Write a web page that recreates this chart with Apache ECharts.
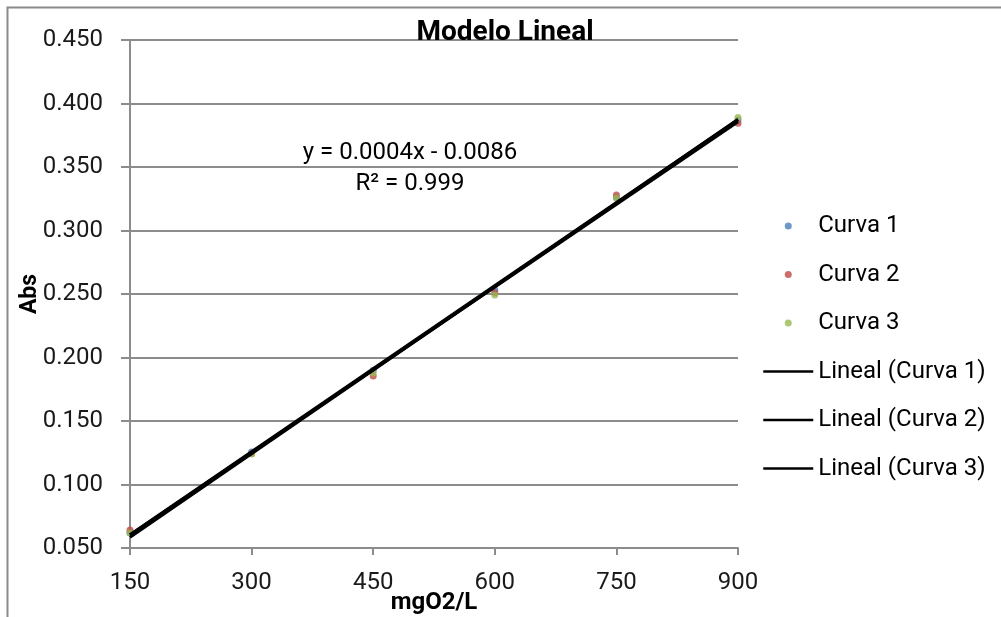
<!DOCTYPE html>
<html><head><meta charset="utf-8">
<script src="https://cdn.jsdelivr.net/npm/echarts@6/dist/echarts.min.js"></script>
<style>html,body{margin:0;padding:0;background:#fff}#c{width:1001px;height:617px}</style>
</head><body><div id="c"></div>
<script>
const xValues = [150, 300, 450, 600, 750, 900];
const curva1 = [0.0620, 0.1256, 0.1900, 0.2531, 0.3260, 0.3870];
const curva2 = [0.0642, 0.1245, 0.1855, 0.2510, 0.3280, 0.3845];
const curva3 = [0.0618, 0.1240, 0.1878, 0.2492, 0.3256, 0.3890];
const xTicks = [150, 300, 450, 600, 750, 900];
const yTicks = [0.05, 0.10, 0.15, 0.20, 0.25, 0.30, 0.35, 0.40, 0.45];
const names = ['Curva 1', 'Curva 2', 'Curva 3'];
const colors = ['#4a7ebb', '#be4b48', '#98b954'];
const equationText = 'y = 0.0004x - 0.0086';
const r2Text = 'R² = 0.999';

function fit(ys) {
  const n = xValues.length;
  let sx = 0, sy = 0, sxx = 0, sxy = 0;
  for (let i = 0; i < n; i++) { sx += xValues[i]; sy += ys[i]; sxx += xValues[i]*xValues[i]; sxy += xValues[i]*ys[i]; }
  const b = (n*sxy - sx*sy) / (n*sxx - sx*sx);
  const a = (sy - b*sx) / n;
  const x0 = xValues[0], x1 = xValues[n-1];
  return [[x0, a + b*x0], [x1, a + b*x1]];
}

const font = 'Roboto';
const series = [];
[curva1, curva2, curva3].forEach((ys, i) => {
  series.push({
    name: names[i], type: 'scatter', symbol: 'circle', symbolSize: 7,
    itemStyle: { color: colors[i] }, z: 2,
    data: xValues.map((x, j) => [x, ys[j]])
  });
});
[curva1, curva2, curva3].forEach((ys, i) => {
  series.push({
    name: 'Lineal (' + names[i] + ')', type: 'line', showSymbol: false, symbol: 'none',
    lineStyle: { color: '#000', width: 3 }, itemStyle: { color: '#000' }, z: 3,
    data: fit(ys)
  });
});

const legendData = names.map(n => ({ name: n }))
  .concat(names.map(n => ({ name: 'Lineal (' + n + ')', itemStyle: { opacity: 0 }, lineStyle: { width: 2.5, color: '#000' } })));

const chart = echarts.init(document.getElementById('c'));
chart.setOption({
  animation: false,
  backgroundColor: '#fff',
  title: {
    text: 'Modelo Lineal', left: 505, top: 19, textAlign: 'center', padding: 0,
    textStyle: { fontFamily: font, fontSize: 28, fontWeight: 'bold', color: '#000' }
  },
  grid: { left: 130, right: 263, top: 40, bottom: 69, outerBoundsMode: 'none', containLabel: false },
  legend: {
    orient: 'vertical', left: 762, top: 214, padding: 0, itemWidth: 50, itemHeight: 7, itemGap: 24.5,
    textStyle: { fontFamily: font, fontSize: 24, color: '#000', lineHeight: 24 },
    data: legendData
  },
  xAxis: {
    type: 'value', min: 150, max: 900, interval: 150,
    name: 'mgO2/L', nameLocation: 'middle', nameGap: 43, nameMoveOverlap: false,
    nameTextStyle: { fontFamily: font, fontSize: 24, fontWeight: 'bold', color: '#000' },
    axisLine: { show: true, lineStyle: { color: '#8c8c8c', width: 2 } },
    axisTick: { show: true, length: 7, lineStyle: { color: '#8c8c8c', width: 2 } },
    axisLabel: { fontFamily: font, fontSize: 24, color: '#1a1a1a', margin: 23,
      formatter: v => xTicks.includes(Math.round(v)) ? String(Math.round(v)) : '' },
    splitLine: { show: false }
  },
  yAxis: {
    type: 'value', min: 0.05, max: 0.45, interval: 0.05,
    name: 'Abs', nameLocation: 'middle', nameGap: 88, nameMoveOverlap: false,
    nameTextStyle: { fontFamily: font, fontSize: 23, fontWeight: 'bold', color: '#000' },
    axisLine: { show: true, lineStyle: { color: '#8c8c8c', width: 2 } },
    axisTick: { show: true, length: 9, lineStyle: { color: '#8c8c8c', width: 2 } },
    axisLabel: { fontFamily: font, fontSize: 24, color: '#1a1a1a', margin: 27,
      formatter: v => { const t = yTicks.find(k => Math.abs(k - v) < 1e-6); return t !== undefined ? t.toFixed(3) : ''; } },
    splitLine: { show: true, lineStyle: { color: '#8c8c8c', width: 2 } }
  },
  graphic: [
    { type: 'rect', shape: { x: 7.5, y: 7.5, width: 1100, height: 700 }, style: { fill: 'none', stroke: '#8a8a8a', lineWidth: 2 }, silent: true, z: -1 },
    { type: 'text', x: 410, y: 153, style: { text: equationText, font: '24px Roboto', fill: '#000', align: 'center', verticalAlign: 'middle' }, z: 10 },
    { type: 'text', x: 410, y: 184, style: { text: r2Text, font: '24px Roboto', fill: '#000', align: 'center', verticalAlign: 'middle' }, z: 10 }
  ],
  series: series
});
</script></body></html>
